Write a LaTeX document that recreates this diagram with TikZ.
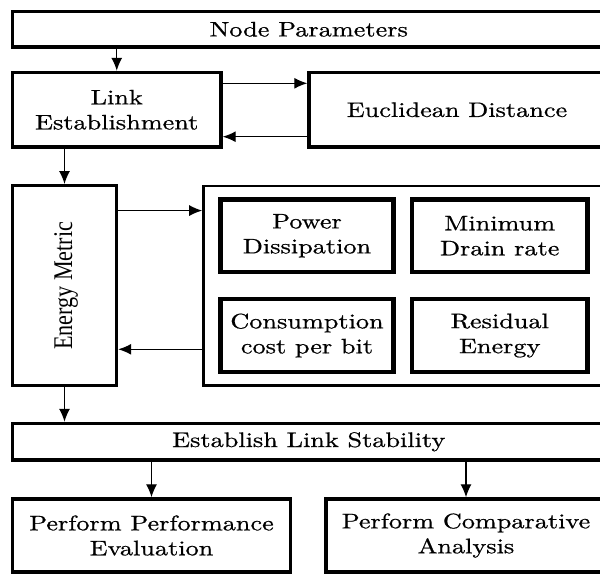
\documentclass[tikz,border=0pt]{standalone}
\usepackage{fontspec}
\setmainfont{lmroman10-regular.otf}[FakeStretch=1.25,FakeBold=0.7]
\newfontfamily\emfont{Liberation Serif}[FakeStretch=0.82]
\usetikzlibrary{arrows.meta}
\begin{document}
\begin{tikzpicture}[x=1pt,y=-1pt,
  base/.style={draw, inner sep=0pt, align=center, font=\fontsize{21}{25}\selectfont},
  outer/.style={base, line width=3.4pt},
  cont/.style={draw, inner sep=0pt, line width=2.6pt},
  inner/.style={base, line width=4.4pt},
  arr/.style={line width=1.3pt, -{Latex[length=13pt,width=11pt]}}]
\useasboundingbox (0,0) rectangle (600,574);
\clip (0,0) rectangle (600,574);
% boxes
\node[outer, minimum width=592.5pt, minimum height=35.5pt] (NP) at (308.75,29.25) {Node Parameters};
\node[outer, minimum width=208.5pt, minimum height=74.5pt] (Link) at (116.75,109.75) {Link\\Establishment};
\node[outer, minimum width=296pt, minimum height=74.5pt] (Euc) at (457,109.75) {Euclidean Distance};
\node[outer, minimum width=104pt, minimum height=200pt] (Energy) at (64.5,285.75) {};
\node[rotate=90, inner sep=0pt, font=\emfont\fontsize{27}{30}\selectfont] (EnergyText) at ([xshift=1.5pt]Energy.center) {Energy Metric};
\node[cont, minimum width=401.5pt, minimum height=199.5pt] (Cont) at (404.25,285.75) {};
\node[inner, minimum width=173pt, minimum height=72.5pt] (Power) at (307,235.75) {Power\\Dissipation};
\node[inner, minimum width=175.5pt, minimum height=72.5pt] (Min) at (499.75,235.75) {Minimum\\Drain rate};
\node[inner, minimum width=173pt, minimum height=73pt] (Cons) at (307,335.5) {Consumption\\cost per bit};
\node[inner, minimum width=175.5pt, minimum height=73pt] (Res) at (499.75,335.5) {Residual\\Energy};
\node[outer, minimum width=592.5pt, minimum height=36.5pt] (ELS) at (308.75,441.75) {Establish Link Stability};
\node[outer, minimum width=278pt, minimum height=73pt] (PPE) at (151.5,535.5) {Perform Performance\\Evaluation};
\node[outer, minimum width=280pt, minimum height=73pt] (PCA) at (466,535.5) {Perform Comparative\\Analysis};
% connectors
\draw[arr] (Link.north |- NP.south) -- (Link.north);
\draw[arr] ([yshift=-12.5pt]Link.north east) -- ([yshift=-12.5pt]Euc.north west);
\draw[arr] ([yshift=12pt]Euc.south west) -- ([yshift=12pt]Link.south east);
\draw[arr] (Energy.north |- Link.south) -- (Energy.north);
\draw[arr] ([yshift=-26.5pt]Energy.north east) -- ([yshift=-26.5pt]Energy.north east -| Cont.west);
\draw[arr] ([yshift=37.5pt]Cont.south west) -- ([yshift=37.5pt]Cont.south west -| Energy.east);
\draw[arr] (Energy.south) -- (Energy.south |- ELS.north);
\draw[arr] (PPE.north |- ELS.south) -- (PPE.north);
\draw[arr] (PCA.north |- ELS.south) -- (PCA.north);
\end{tikzpicture}
\end{document}
